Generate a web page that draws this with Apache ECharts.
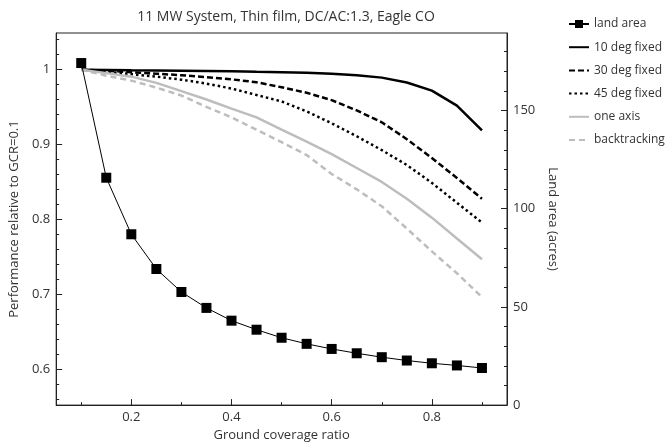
<!DOCTYPE html>
<html><head><meta charset="utf-8">
<script src="https://cdn.jsdelivr.net/npm/echarts@6/dist/echarts.min.js"></script>
<style>html,body{margin:0;padding:0;background:#fff}#c{width:672px;height:447px}</style>
</head><body><div id="c"></div>
<script>
const gcr = [0.1,0.15,0.2,0.25,0.3,0.35,0.4,0.45,0.5,0.55,0.6,0.65,0.7,0.75,0.8,0.85,0.9];
const landArea = [174.2,115.8,87.0,69.3,57.6,49.5,43.0,38.4,34.3,31.2,28.6,26.4,24.4,22.7,21.3,20.2,18.9];
const fixed10 = [1.0,0.9997,0.9993,0.999,0.9987,0.9984,0.998,0.9973,0.9967,0.996,0.9947,0.9927,0.9894,0.9828,0.972,0.952,0.919];
const fixed30 = [1.0,0.9987,0.9967,0.9947,0.9926,0.9901,0.9871,0.9832,0.9765,0.9692,0.9593,0.9456,0.9297,0.9072,0.882,0.8554,0.8276];
const fixed45 = [1.0,0.9973,0.994,0.9907,0.9867,0.9814,0.9748,0.9662,0.9576,0.9443,0.9284,0.9111,0.8926,0.8727,0.8488,0.8223,0.7958];
const oneAxis = [1.0,0.9954,0.9907,0.9824,0.9714,0.9602,0.9479,0.9363,0.9198,0.9038,0.8873,0.8687,0.8501,0.8276,0.8024,0.7745,0.7467];
const backtrack = [1.0,0.992,0.9854,0.9761,0.9655,0.9503,0.9363,0.9198,0.9032,0.8859,0.8607,0.8402,0.8176,0.7878,0.7573,0.7281,0.6963];
const xMajor = [0.2,0.4,0.6,0.8];
const xMinor = [0.1,0.3,0.5,0.7,0.9];
const yMajor = [0.6,0.7,0.8,0.9,1.0];
const yMinor = [0.56,0.58,0.62,0.64,0.66,0.68,0.72,0.74,0.76,0.78,0.82,0.84,0.86,0.88,0.92,0.94,0.96,0.98,1.02,1.04];
const rMajor = [0,50,100,150];
const rMinor = [10,20,30,40,60,70,80,90,110,120,130,140,160,170,180];
const title = '11 MW System, Thin film, DC/AC:1.3, Eagle CO';
const seriesNames = ['land area','10 deg fixed','30 deg fixed','45 deg fixed','one axis','backtracking'];

const FONT = 'Open Sans';
const TXT = '#333';
const pair = a => gcr.map((x,i)=>[x,a[i]]);
const chart = echarts.init(document.getElementById('c'), null, {renderer:'canvas'});
const lineS = (name, data, color, type, w) => ({
  name, type:'line', data: pair(data), yAxisIndex:0, xAxisIndex:0,
  symbol:'none', smooth:false, animation:false,
  lineStyle:{color, width:w, type}, itemStyle:{color}
});
chart.setOption({
  animation:false,
  textStyle:{fontFamily:FONT},
  title:{text:title, left:281, textAlign:'center', top:5,
    textStyle:{fontSize:14, fontWeight:'normal', color:TXT, fontFamily:FONT}},
  grid:{left:55, right:165, top:33, bottom:39, show:true, borderColor:'#222', borderWidth:1, backgroundColor:'transparent'},
  legend:{orient:'vertical', left:563, top:13, itemGap:11.2, itemWidth:20, itemHeight:10,
    textStyle:{fontSize:12, color:TXT, fontFamily:FONT},
    data: seriesNames.map((n,i)=> i===0 ? {name:n} : {name:n, itemStyle:{opacity:0}})},
  xAxis:[
    {type:'value', min:0.05, max:0.95, position:'bottom',
     name:'Ground coverage ratio', nameLocation:'middle', nameGap:20,
     nameTextStyle:{fontSize:13, color:TXT, fontFamily:FONT},
     axisLine:{show:true, lineStyle:{color:'#222', width:1}},
     axisTick:{show:true, inside:true, length:6, customValues:xMajor, lineStyle:{color:'#222'}},
     axisLabel:{show:true, customValues:xMajor, fontSize:13, color:TXT, fontFamily:FONT, margin:6,
       formatter:v=>String(+v.toFixed(2))},
     splitLine:{show:false}},
    {type:'value', min:0.05, max:0.95, position:'bottom', offset:0,
     axisLine:{show:false},
     axisTick:{show:true, inside:true, length:3, customValues:xMinor, lineStyle:{color:'#222'}},
     axisLabel:{show:false}, splitLine:{show:false}}
  ],
  yAxis:[
    {type:'value', min:0.552, max:1.049, position:'left',
     name:'Performance relative to GCR=0.1', nameLocation:'middle', nameGap:31,
     nameTextStyle:{fontSize:13, color:TXT, fontFamily:FONT},
     axisLine:{show:true, lineStyle:{color:'#222', width:1}},
     axisTick:{show:true, inside:true, length:6, customValues:yMajor, lineStyle:{color:'#222'}},
     axisLabel:{show:true, customValues:yMajor, fontSize:13, color:TXT, fontFamily:FONT, margin:6,
       formatter:v=>String(+v.toFixed(2))},
     splitLine:{show:false}},
    {type:'value', min:0, max:189.5, position:'right',
     name:'Land area (acres)', nameLocation:'middle', nameGap:38, nameRotate:-90,
     nameTextStyle:{fontSize:13, color:TXT, fontFamily:FONT},
     axisLine:{show:true, lineStyle:{color:'#222', width:1}},
     axisTick:{show:true, inside:true, length:6, customValues:rMajor, lineStyle:{color:'#222'}},
     axisLabel:{show:true, customValues:rMajor, fontSize:13, color:TXT, fontFamily:FONT, margin:6},
     splitLine:{show:false}},
    {type:'value', min:0.552, max:1.049, position:'left', offset:0,
     axisLine:{show:false},
     axisTick:{show:true, inside:true, length:3, customValues:yMinor, lineStyle:{color:'#222'}},
     axisLabel:{show:false}, splitLine:{show:false}},
    {type:'value', min:0, max:189.5, position:'right', offset:0,
     axisLine:{show:false},
     axisTick:{show:true, inside:true, length:3, customValues:rMinor, lineStyle:{color:'#222'}},
     axisLabel:{show:false}, splitLine:{show:false}}
  ],
  series:[
    {name:'land area', type:'line', data:pair(landArea), yAxisIndex:1, xAxisIndex:0, z:5,
     symbol:'rect', symbolSize:10, showSymbol:true, animation:false,
     lineStyle:{color:'#000', width:1}, itemStyle:{color:'#000'}},
    lineS('10 deg fixed', fixed10, '#000', 'solid', 2.5),
    lineS('30 deg fixed', fixed30, '#000', [6,3], 2.5),
    lineS('45 deg fixed', fixed45, '#000', [2.5,3], 2.5),
    lineS('one axis', oneAxis, '#bdbdbd', 'solid', 2.5),
    lineS('backtracking', backtrack, '#bdbdbd', [6,4], 2.5)
  ]
});
</script></body></html>
